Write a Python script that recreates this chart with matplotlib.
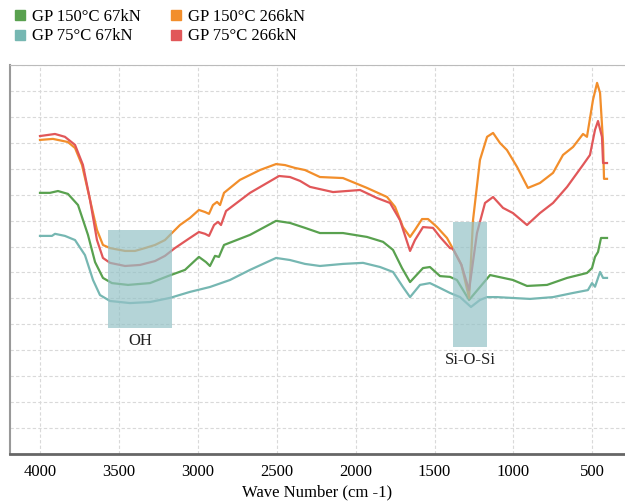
import matplotlib.pyplot as plt
from matplotlib.lines import Line2D

# spectra (wave number, signal in grid units)
wn_orange = [4000, 3918, 3823, 3778, 3734, 3683, 3639, 3601, 3556, 3461, 3398, 3335, 3271,
             3208, 3164, 3113, 3050, 2993, 2954, 2929, 2904, 2878, 2859, 2834, 2733, 2606,
             2504, 2447, 2384, 2321, 2226, 2080, 1928, 1801, 1750, 1700, 1655, 1624, 1579,
             1541, 1484, 1421, 1383, 1330, 1281, 1256, 1212, 1167, 1129, 1085, 1041, 977,
             908, 832, 749, 686, 622, 559, 534, 496, 470, 451, 432, 426, 407]
tr_orange = [12.11, 12.15, 12.03, 11.80, 11.15, 9.80, 8.64, 8.06, 7.94, 7.83, 7.83, 7.94, 8.06,
             8.25, 8.52, 8.83, 9.10, 9.41, 9.33, 9.26, 9.60, 9.72, 9.60, 10.07, 10.57, 10.95,
             11.18, 11.14, 11.03, 10.95, 10.68, 10.64, 10.26, 9.91, 9.53, 8.75, 8.37, 8.64, 9.06,
             9.06, 8.75, 8.33, 7.91, 7.30, 6.02, 9.02, 11.34, 12.23, 12.38, 11.99, 11.72, 11.07,
             10.26, 10.45, 10.84, 11.53, 11.84, 12.34, 12.23, 13.65, 14.31, 13.92, 11.99, 10.61, 10.61]

wn_red = [4000, 3905, 3842, 3778, 3728, 3683, 3639, 3601, 3556, 3461, 3366, 3271, 3208,
          3145, 3050, 2993, 2954, 2929, 2897, 2872, 2853, 2821, 2669, 2485, 2416, 2352,
          2289, 2143, 1972, 1864, 1782, 1719, 1655, 1624, 1573, 1510, 1465, 1402, 1383,
          1330, 1281, 1231, 1180, 1129, 1066, 1003, 914, 832, 749, 660, 559, 515, 483,
          464, 439, 432, 407]
tr_red = [12.26, 12.34, 12.23, 11.92, 11.15, 9.80, 8.25, 7.56, 7.37, 7.25, 7.29, 7.44, 7.64,
          7.94, 8.33, 8.56, 8.49, 8.41, 8.83, 8.95, 8.83, 9.37, 10.07, 10.72, 10.68, 10.53,
          10.30, 10.10, 10.18, 9.87, 9.68, 9.02, 7.83, 8.25, 8.75, 8.72, 8.37, 7.94, 7.91,
          7.30, 6.32, 8.52, 9.68, 9.91, 9.49, 9.29, 8.83, 9.29, 9.68, 10.30, 11.15, 11.53, 12.50,
          12.84, 12.23, 11.22, 11.22]

wn_green = [4000, 3937, 3886, 3823, 3759, 3696, 3651, 3601, 3544, 3442, 3303, 3189, 3081,
            2993, 2948, 2923, 2891, 2866, 2834, 2669, 2504, 2416, 2321, 2226, 2080, 1928,
            1826, 1763, 1706, 1655, 1573, 1529, 1465, 1402, 1358, 1281, 1148, 1003, 914,
            787, 660, 534, 502, 483, 464, 445, 407]
tr_green = [10.07, 10.07, 10.14, 10.03, 9.60, 8.45, 7.40, 6.79, 6.59, 6.52, 6.59, 6.86, 7.10,
            7.60, 7.40, 7.25, 7.64, 7.60, 8.06, 8.45, 8.99, 8.91, 8.72, 8.52, 8.52, 8.37,
            8.18, 7.87, 7.17, 6.63, 7.17, 7.21, 6.86, 6.83, 6.71, 5.94, 6.90, 6.71, 6.48,
            6.52, 6.79, 6.98, 7.17, 7.60, 7.79, 8.33, 8.33]

wn_teal = [4000, 3924, 3905, 3842, 3778, 3715, 3664, 3620, 3556, 3430, 3303, 3176, 3050,
           2923, 2796, 2669, 2504, 2416, 2321, 2226, 2080, 1953, 1845, 1763, 1700, 1655,
           1592, 1529, 1478, 1402, 1338, 1269, 1212, 1167, 1104, 895, 749, 622, 528, 502,
           483, 451, 432, 407]
tr_teal = [8.41, 8.41, 8.49, 8.41, 8.25, 7.67, 6.71, 6.13, 5.90, 5.82, 5.86, 6.02, 6.25,
           6.44, 6.71, 7.10, 7.56, 7.48, 7.33, 7.25, 7.33, 7.37, 7.21, 7.02, 6.44, 6.05,
           6.52, 6.59, 6.44, 6.21, 6.05, 5.67, 5.94, 6.05, 6.05, 5.98, 6.05, 6.21, 6.32, 6.59,
           6.45, 7.02, 6.79, 6.79]

series = [
    ('GP 150°C 67kN', wn_green, tr_green, '#59a14f'),
    ('GP 75°C 67kN', wn_teal, tr_teal, '#76b7b2'),
    ('GP 150°C 266kN', wn_orange, tr_orange, '#f28e2b'),
    ('GP 75°C 266kN', wn_red, tr_red, '#e15759'),
]
draw_order = [1, 0, 2, 3]

# marked bands: (label, high wn, low wn, bottom, top)
bands = [('OH', 3569, 3164, 4.86, 8.64), ('Si-O-Si', 1383, 1167, 4.13, 8.95)]

plt.rcParams['font.family'] = ['Liberation Serif', 'DejaVu Serif']

fig = plt.figure(figsize=(6.25, 5.03), dpi=100)
ax = fig.add_axes([0.016, 0.0974, 0.984, 0.7734])

for i in draw_order:
    name, wn, tr, col = series[i]
    ax.plot(wn, tr, color=col, lw=1.6, zorder=3)

for lab, hi, lo, b, t in bands:
    ax.fill_between([hi, lo], b, t, color='#94c2c6', alpha=0.7, lw=0, zorder=4)
    ax.text((hi + lo) / 2, b - 0.2, lab, ha='center', va='top', fontsize=12, color='#222222')

ax.set_xlim(4190, 293)
ax.set_ylim(0, 15)
ax.set_xticks([4000, 3500, 3000, 2500, 2000, 1500, 1000, 500])
ax.set_yticks(range(0, 16))
ax.set_yticklabels([])
ax.tick_params(length=0, labelsize=12, pad=7)
ax.grid(True, color='#d9d9d9', ls=(0, (3, 2)), lw=0.8)
ax.set_axisbelow(True)
ax.spines['right'].set_visible(False)
ax.spines['top'].set_color('#bbbbbb')
ax.spines['left'].set_color('#999999')
ax.spines['left'].set_linewidth(1.5)
ax.spines['bottom'].set_color('#666666')
ax.spines['bottom'].set_linewidth(2)
ax.set_xlabel('Wave Number (cm -1)', fontsize=12, labelpad=3)

handles = [Line2D([], [], ls='none', marker='s', markersize=7, color=s[3]) for s in series]
fig.legend(handles, [s[0] for s in series], ncol=2, loc='upper left',
           bbox_to_anchor=(0.003, 1.005), frameon=False, fontsize=12,
           handlelength=0.8, handletextpad=0.3, columnspacing=1.75, labelspacing=0.2,
           borderaxespad=0.3)

plt.savefig('out.png', dpi=100)
